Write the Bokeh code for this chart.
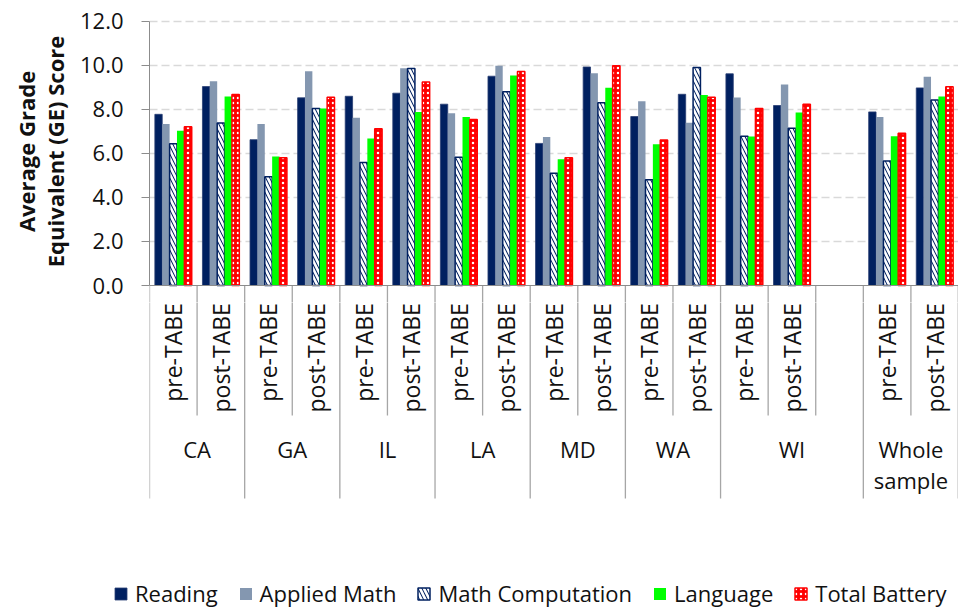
import math
from bokeh.plotting import figure
from bokeh.layouts import column
from bokeh.models import (ColumnDataSource, FactorRange, Range1d, FixedTicker, PrintfTickFormatter,
                          Legend, LegendItem, Span)
from bokeh.transform import dodge
from bokeh.core.properties import value
from bokeh.embed import file_html
from bokeh.resources import INLINE

# ---------------- data ----------------
states = ["CA", "GA", "IL", "LA", "MD", "WA", "WI", "Whole sample"]
phases = ["pre-TABE", "post-TABE"]
blank_after = "WI"          # an empty slot follows this group's bars
series = ["Reading", "Applied Math", "Math Computation", "Language", "Total Battery"]

reading          = [7.77, 9.03, 6.62, 8.52, 8.59, 8.73, 8.23, 9.50, 6.45, 9.92, 7.67, 8.68, 9.61, 8.17, 7.88, 8.97]
applied_math     = [7.33, 9.27, 7.33, 9.73, 7.62, 9.86, 7.82, 9.97, 6.74, 9.64, 8.36, 7.39, 8.53, 9.12, 7.65, 9.48]
math_computation = [6.44, 7.38, 4.94, 8.03, 5.58, 9.85, 5.82, 8.80, 5.09, 8.29, 4.80, 9.89, 6.77, 7.14, 5.65, 8.42]
language         = [7.02, 8.58, 5.86, 8.03, 6.67, 7.88, 7.65, 9.53, 5.73, 8.98, 6.41, 8.65, 6.76, 7.85, 6.77, 8.58]
total_battery    = [7.21, 8.67, 5.80, 8.55, 7.12, 9.24, 7.53, 9.71, 5.80, 9.98, 6.61, 8.55, 8.03, 8.23, 6.91, 9.02]

y_ticks = [0, 2, 4, 6, 8, 10, 12]
y_title = "Average Grade\nEquivalent (GE) Score"

# ---------------- layout ----------------
factors = []
for s in states:
    for ph in phases:
        factors.append((s, ph))
    if s == blank_after:
        factors.append((s, ""))
bar_x = [(s, ph) for s in states for ph in phases]

FONT = "Open Sans"
AXIS_GRAY = "#8c8c8c"
SEP_GRAY = "#a6a6a6"
TXT = "#111111"
WIDTH = 958
LEFT = 149
FW = WIDTH - LEFT
PX = 22.03                 # pixels per score unit
ZERO_Y = 285               # page y of the 0 line
TOP_H = 302                # height of the bar panel
BOT_H = 276                # height of the category-label panel
LEG_H = 608 - TOP_H - BOT_H

v_split = -(TOP_H - ZERO_Y) / PX
v_bottom = v_split - BOT_H / PX

x_range = FactorRange(*factors, factor_padding=0, group_padding=0, range_padding=0)

# bar styles (shared by the bars and the legend swatches)
styles = [
    dict(fill_color="#002060", line_color="#2a3f73", line_width=0.8),
    dict(fill_color="#8497b0", line_color=None),
    dict(fill_color="#002060", hatch_pattern="left_diagonal_line", hatch_color="white",
         hatch_weight=2.6, hatch_scale=8, line_color="#002060", line_width=1.5),
    dict(fill_color="#00ff00", line_color=None),
    dict(fill_color="#ff0000", hatch_pattern="dot", hatch_color="white",
         hatch_weight=2, hatch_scale=5, line_color="#ff0000", line_width=1.5),
]

# ---------- top figure: bars ----------
p = figure(frame_width=FW, frame_height=TOP_H, x_range=x_range,
           y_range=Range1d(v_split, ZERO_Y / PX),
           x_axis_location=None, output_backend="svg", toolbar_location=None,
           min_border_left=LEFT, min_border_right=0, min_border_top=0, min_border_bottom=0)
p.outline_line_color = None

yax = p.yaxis[0]
yax.bounds = (0, 12)
yax.ticker = FixedTicker(ticks=y_ticks)
yax.formatter = PrintfTickFormatter(format="%.1f")
yax.minor_tick_line_color = None
yax.major_tick_in = 0
yax.major_tick_out = 8
yax.major_tick_line_color = AXIS_GRAY
yax.axis_line_color = AXIS_GRAY
yax.major_label_text_font = FONT
yax.major_label_text_font_size = "22px"
yax.major_label_text_color = TXT
yax.major_label_standoff = 18
yax.axis_label = y_title
yax.axis_label_text_font = FONT
yax.axis_label_text_font_size = "22px"
yax.axis_label_text_font_style = "bold"
yax.axis_label_text_color = TXT
yax.axis_label_standoff = 7
yax.axis_label_text_line_height = 0.98

p.ygrid.ticker = FixedTicker(ticks=[t for t in y_ticks if t > 0])
p.ygrid.grid_line_color = "#d9d9d9"
p.ygrid.grid_line_dash = "8 4"
p.ygrid.grid_line_width = 1.3
p.xgrid.grid_line_color = None

src = ColumnDataSource(dict(x=bar_x, r=reading, am=applied_math, mc=math_computation,
                            lg=language, tb=total_battery))
w = 0.155
cols = ["r", "am", "mc", "lg", "tb"]
for k, (col, st) in enumerate(zip(cols, styles)):
    p.vbar(x=dodge("x", (k - 2) * w, range=x_range), top=col, width=w, bottom=0, source=src, **st)

p.add_layout(Span(location=0, dimension="width", line_color=AXIS_GRAY, line_width=1.2))

# category separators (shared data)
y_sub = -5.90
y_full = -9.67
sep_x, sep_y = [], []
for i, f in enumerate(factors):
    full = i == 0 or f[0] != factors[i - 1][0]
    sep_x.append(f)
    sep_y.append(y_full if full else y_sub)
sep_src = ColumnDataSource(dict(x=sep_x, yb=sep_y))
end_src = ColumnDataSource(dict(x=[factors[-1]], yb=[y_full]))


def separators(fig):
    fig.segment(x0=dodge("x", -0.5, range=x_range), y0=0, x1=dodge("x", -0.5, range=x_range), y1="yb",
                source=sep_src, line_color=SEP_GRAY, line_width=1.3)
    fig.segment(x0=dodge("x", 0.495, range=x_range), y0=0, x1=dodge("x", 0.495, range=x_range), y1="yb",
                source=end_src, line_color=SEP_GRAY, line_width=1.3)


separators(p)

# ---------- middle figure: category labels ----------
q = figure(frame_width=FW, frame_height=BOT_H, x_range=x_range, y_range=Range1d(v_bottom, v_split),
           x_axis_location=None, y_axis_location=None, output_backend="svg", toolbar_location=None,
           min_border_left=LEFT, min_border_right=0, min_border_top=0, min_border_bottom=0)
q.outline_line_color = None
q.grid.grid_line_color = None
separators(q)

sub_src = ColumnDataSource(dict(x=[f for f in factors if f[1]], t=[f[1] for f in factors if f[1]]))
q.text(x="x", y=v_split - 0.03, text="t", source=sub_src, angle=math.pi / 2, text_align="right",
       text_baseline="middle", text_font=value(FONT), text_font_size="23px", text_color=TXT)

grp_src = ColumnDataSource(dict(x=states, t=[s.replace(" ", "\n") for s in states]))
q.text(x="x", y=-6.72, text="t", source=grp_src, text_align="center", text_baseline="top",
       text_font=value(FONT), text_font_size="22px", text_color=TXT, text_line_height=1.05)

# ---------- bottom strip: legend ----------
g = figure(frame_width=WIDTH, frame_height=LEG_H, x_range=Range1d(0, 1), y_range=Range1d(0, 1),
           x_axis_location=None, y_axis_location=None, output_backend="svg", toolbar_location=None,
           min_border_left=0, min_border_right=0, min_border_top=0, min_border_bottom=0)
g.outline_line_color = None
g.grid.grid_line_color = None
# one swatch bar per series, kept outside the strip's visible range (legend key only)
swatches = [g.vbar(x=[3], bottom=[5], top=[6], width=0.01, **st) for st in styles]
legend = Legend(items=[LegendItem(label=s, renderers=[r]) for s, r in zip(series, swatches)],
                orientation="horizontal", location=(113, 0), padding=0, margin=0, spacing=20,
                glyph_width=15, glyph_height=15, label_standoff=7, label_height=LEG_H,
                label_text_font=FONT, label_text_font_size="22px", label_text_color=TXT,
                border_line_color=None, background_fill_alpha=0)
g.add_layout(legend)

layout = column(p, q, g, spacing=0)
open("out.html", "w").write(file_html(layout, INLINE))
